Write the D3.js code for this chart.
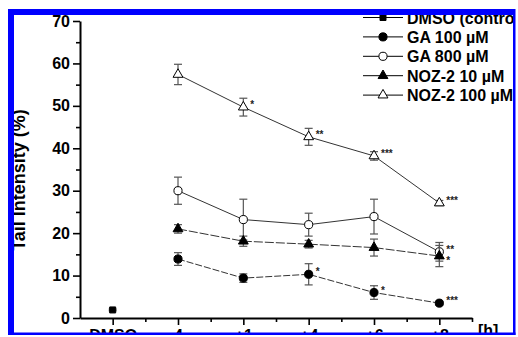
<html>
<head>
    <script src="https://d3js.org/d3.v7.min.js"></script>
    <style>
        body { margin: 0; background: white; }
        svg { display: block; font-family: "Liberation Sans", Arial, sans-serif; }
    </style>
</head>
<body>
    <svg id="chart" width="518" height="337"></svg>
    <script>
        // chart data
        const categories = ["DMSO", "4", "+1", "+4", "+6", "+8"];
        const yTicks = [0, 10, 20, 30, 40, 50, 60, 70];
        const dmso = [1.9];
        const dmsoErr = [0.2];
        const ga100 = [13.9, 9.4, 10.3, 6.0, 3.5];
        const ga100Err = [1.5, 1.0, 2.5, 1.6, 0.4];
        const ga800 = [30.0, 23.2, 22.0, 23.9, 15.6];
        const ga800Err = [3.2, 4.8, 2.7, 4.1, 2.2];
        const noz10 = [21.0, 18.1, 17.4, 16.6, 14.6];
        const noz10Err = [1.0, 1.2, 0.9, 2.0, 2.5];
        const noz100 = [57.4, 49.7, 42.7, 38.2, 27.1];
        const noz100Err = [2.4, 2.1, 2.0, 1.0, 0.6];
        const stars = [
            { s: "noz100", i: 1, t: "*" }, { s: "noz100", i: 2, t: "**" },
            { s: "noz100", i: 3, t: "***" }, { s: "noz100", i: 4, t: "***" },
            { s: "ga100", i: 2, t: "*" }, { s: "ga100", i: 3, t: "*" },
            { s: "ga100", i: 4, t: "***" },
            { s: "ga800", i: 4, t: "**" }, { s: "noz10", i: 4, t: "*" }
        ];

        const series = [
            { key: "dmso", name: "DMSO (control)", vals: dmso, err: dmsoErr, start: 0, sym: d3.symbolSquare, size: 36, fill: "#000", dash: null },
            { key: "ga100", name: "GA 100 \u00b5M", vals: ga100, err: ga100Err, start: 1, sym: d3.symbolCircle, size: 52, fill: "#000", dash: "7,2" },
            { key: "ga800", name: "GA 800 \u00b5M", vals: ga800, err: ga800Err, start: 1, sym: d3.symbolCircle, size: 52, fill: "#fff", dash: null },
            { key: "noz10", name: "NOZ-2 10 \u00b5M", vals: noz10, err: noz10Err, start: 1, sym: d3.symbolTriangle, size: 42, fill: "#000", dash: "9,2" },
            { key: "noz100", name: "NOZ-2 100 \u00b5M", vals: noz100, err: noz100Err, start: 1, sym: d3.symbolTriangle, size: 42, fill: "#fff", dash: null }
        ];
        const byKey = {};
        series.forEach(s => byKey[s.key] = s);

        const svg = d3.select("#chart");
        svg.append("defs").append("clipPath").attr("id", "frame")
            .append("rect").attr("x", 14).attr("y", 15).attr("width", 499).attr("height", 318);

        const g = svg.append("g").attr("clip-path", "url(#frame)");

        const x = d3.scaleLinear().domain([-0.5, 5.5]).range([80, 472]);
        const y = d3.scaleLinear().domain([0, 70]).range([318, 21]);

        // Y axis
        const yAxis = g.append("g").attr("transform", "translate(80,0)")
            .call(d3.axisLeft(y).tickValues(yTicks).tickSize(7).tickPadding(3).tickSizeOuter(0));
        yAxis.append("g").call(d3.axisLeft(y).tickValues(d3.range(5, 70, 10)).tickSize(4).tickFormat(""))
            .select(".domain").remove();
        yAxis.selectAll("text").style("font-size", "16px").style("font-weight", "bold").attr("fill", "#000");

        // X axis
        const xAxis = g.append("g").attr("transform", "translate(0,318)")
            .call(d3.axisBottom(x).tickValues(d3.range(0, 6)).tickFormat(i => categories[i])
                .tickSize(7).tickPadding(5).tickSizeOuter(0));
        xAxis.append("g").call(d3.axisBottom(x).tickValues(d3.range(0.5, 6, 1)).tickSize(4).tickFormat(""))
            .select(".domain").remove();
        xAxis.selectAll("text").style("font-size", "16px").style("font-weight", "bold").attr("fill", "#000");
        g.selectAll(".domain").attr("stroke-width", 2).attr("stroke", "#000");
        g.selectAll(".tick line").attr("stroke-width", 1.6).attr("stroke", "#000");

        g.append("text").attr("x", 478).attr("y", 336)
            .style("font-size", "16px").style("font-weight", "bold").text("[h]");

        g.append("text")
            .attr("transform", "translate(25,180) rotate(-90)")
            .attr("text-anchor", "middle")
            .style("font-size", "18px").style("font-weight", "bold")
            .text("Tail Intensity (%)");

        // lines, error bars, markers
        series.forEach(s => {
            const pts = s.vals.map((v, j) => ({ xi: s.start + j, v: v, e: s.err[j] }));
            if (pts.length > 1) {
                g.append("path").datum(pts)
                    .attr("fill", "none").attr("stroke", "#333").attr("stroke-width", 1)
                    .attr("stroke-dasharray", s.dash)
                    .attr("d", d3.line().x(d => x(d.xi)).y(d => y(d.v)));
            }
            const eb = g.append("g").attr("stroke", "#555").attr("stroke-width", 1.2);
            pts.forEach(d => {
                eb.append("line").attr("x1", x(d.xi)).attr("x2", x(d.xi))
                    .attr("y1", y(d.v - d.e)).attr("y2", y(d.v + d.e));
                [d.v - d.e, d.v + d.e].forEach(c => eb.append("line")
                    .attr("x1", x(d.xi) - 4).attr("x2", x(d.xi) + 4)
                    .attr("y1", y(c)).attr("y2", y(c)));
            });
            g.selectAll(null).data(pts).enter().append("path")
                .attr("transform", d => "translate(" + x(d.xi) + "," + y(d.v) + ")")
                .attr("d", d3.symbol(s.sym, s.size))
                .attr("fill", s.fill).attr("stroke", "#000").attr("stroke-width", 1);
        });

        // significance marks
        g.selectAll(".star").data(stars).enter().append("text")
            .attr("class", "star")
            .attr("x", d => x(byKey[d.s].start + d.i) + 7)
            .attr("y", d => y(byKey[d.s].vals[d.i]) + (d.s === "noz10" ? 8 : 1))
            .attr("fill", "#222")
            .style("font-size", "10px").style("font-weight", "bold")
            .text(d => d.t);

        // legend
        const leg = g.append("g");
        series.forEach((s, i) => {
            const cy = 17.5 + i * 19.4;
            leg.append("line").attr("x1", 363).attr("x2", 403).attr("y1", cy).attr("y2", cy)
                .attr("stroke", "#000").attr("stroke-width", 1);
            leg.append("path").attr("transform", "translate(383," + cy + ")")
                .attr("d", d3.symbol(s.sym, s.size)).attr("fill", s.fill).attr("stroke", "#000");
            leg.append("text").attr("x", 407).attr("y", cy + 6)
                .style("font-size", "16px").style("font-weight", "bold").text(s.name);
        });

        // blue frame
        svg.append("rect").attr("x", 8).attr("y", 9).attr("width", 6).attr("height", 326).attr("fill", "#0000ff");
        svg.append("rect").attr("x", 8).attr("y", 9).attr("width", 507).attr("height", 6).attr("fill", "#0000ff");
        svg.append("rect").attr("x", 513).attr("y", 9).attr("width", 2.5).attr("height", 326).attr("fill", "#0000ff");
        svg.append("rect").attr("x", 8).attr("y", 332.5).attr("width", 507.5).attr("height", 2.5).attr("fill", "#0000ff");
    </script>
</body>
</html>
